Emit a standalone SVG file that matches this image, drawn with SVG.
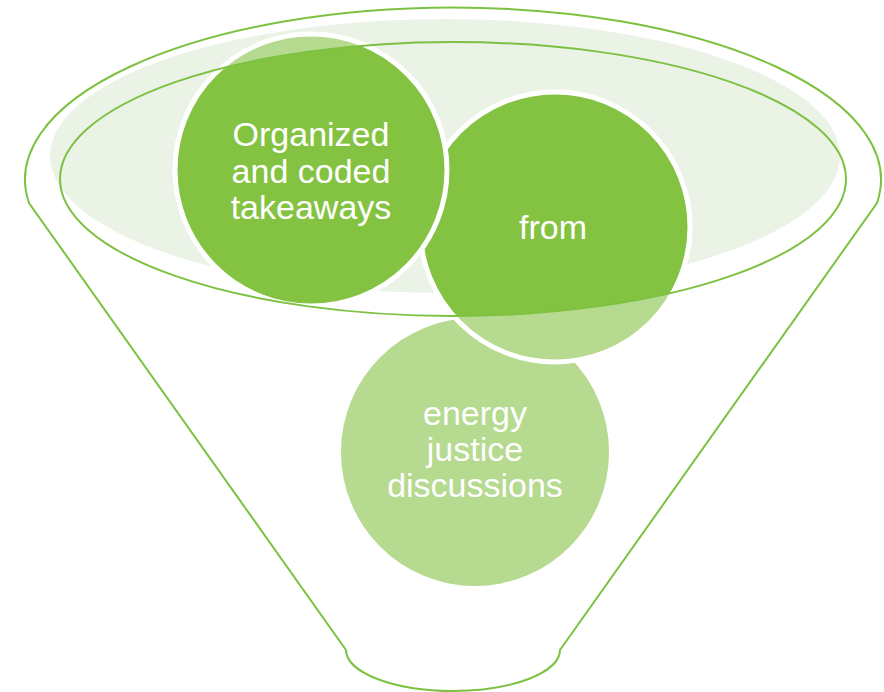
<svg xmlns="http://www.w3.org/2000/svg" width="884" height="692" viewBox="0 0 884 692">
<style>
.line{fill:none;stroke:#7DC142;stroke-width:2}
.dark{fill:#84C341}
.light{fill:#B5DA90}
.ring{fill:none;stroke:#FFFFFF;stroke-width:5}
.lbl{font-family:"Liberation Sans",Arial,sans-serif;font-size:34px;fill:#FFFFFF;text-anchor:middle}
</style>
<defs>
<clipPath id="rim"><ellipse cx="453" cy="179" rx="393" ry="137"/></clipPath>
</defs>
<rect width="884" height="692" fill="#FFFFFF"/>
<g id="funnel">
<path class="line" d="M 29 203 A 428 172 0 1 1 877 203 L 560 650 A 107 41 0 0 1 346 650 Z" fill="#FFFFFF"/>
<ellipse cx="445" cy="156" rx="395" ry="137" fill="#EBF3E6"/>
</g>
<g id="node-energy">
<circle class="light" cx="475" cy="452" r="134"/>
<text class="lbl" x="475" y="425">energy</text>
<text class="lbl" x="475" y="461">justice</text>
<text class="lbl" x="475" y="497">discussions</text>
</g>
<g id="node-from">
<circle class="light" cx="555" cy="227" r="135"/>
<circle class="dark" cx="555" cy="227" r="135" clip-path="url(#rim)"/>
<circle class="ring" cx="555" cy="227" r="135"/>
<text class="lbl" x="553" y="239">from</text>
</g>
<g id="node-organized">
<circle class="light" cx="311" cy="170" r="136"/>
<circle class="dark" cx="311" cy="170" r="136" clip-path="url(#rim)"/>
<circle class="ring" cx="311" cy="170" r="136"/>
<text class="lbl" x="311" y="146">Organized</text>
<text class="lbl" x="311" y="183">and coded</text>
<text class="lbl" x="311" y="219">takeaways</text>
</g>
<g id="connectors">
<ellipse class="line" cx="453" cy="179" rx="393" ry="137"/>
</g>
</svg>
